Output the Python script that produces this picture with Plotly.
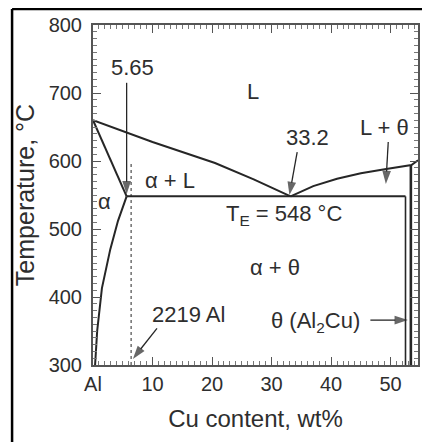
import plotly.graph_objects as go

# ---- data (wt% Cu, temperature °C) ----
liq_left_x = [0, 10, 20.5, 27, 33.2]
liq_left_t = [660, 628, 597, 573, 548]
liq_right_x = [33.2, 37, 41, 45, 49, 52.5, 53.5, 54.6]
liq_right_t = [548, 563, 574, 582, 588, 592, 594, 601]
solidus_x = [0, 5.65]
solidus_t = [660, 548]
solvus_x = [5.65, 4.2, 2.9, 1.5, 0.7, 0.35]
solvus_t = [548, 512, 470, 413, 350, 300]
eutectic_x = [5.65, 52.5]
eutectic_t = [548, 548]
theta_left_x = [52.5, 52.5]
theta_left_t = [548, 300]
theta_right_x = [53.4, 53.4]
theta_right_t = [594, 300]
alloy_x = [6.4, 6.4]
alloy_t = [300, 600]

x_tickvals = [0, 10, 20, 30, 40, 50]
x_ticktext = ["Al", "10", "20", "30", "40", "50"]
y_tickvals = [300, 400, 500, 600, 700, 800]

region_labels = [
    ("L", 26.9, 702),
    ("α + L", 12.9, 572),
    ("α", 1.85, 540),
    ("T<sub>E</sub> = 548 °C", 32.1, 521),
    ("α + θ", 30.6, 443),
]
point_labels = [
    # text, text x, text t, arrow start x, arrow start t, tip x, tip t
    ("5.65", 6.6, 737, 5.65, 715, 5.65, 551),
    ("33.2", 36.1, 635, 34.3, 613, 33.0, 550),
    ("L + θ", 48.9, 650, 49.6, 628, 49.2, 566),
    ("2219 Al", 16.1, 375, 10.75, 354, 6.7, 309),
    ("θ (Al<sub>2</sub>Cu)", 37.3, 363, 46.6, 366, 52.9, 366),
]

LINE = "#262626"
TXT = "#2e2e2e"
FONT = "Liberation Sans, Arial, sans-serif"

fig = go.Figure()
for xs, ts, dash, w in [
    (liq_left_x, liq_left_t, "solid", 2),
    (liq_right_x, liq_right_t, "solid", 2),
    (solidus_x, solidus_t, "solid", 2),
    (solvus_x, solvus_t, "solid", 2),
    (eutectic_x, eutectic_t, "solid", 2),
    (theta_left_x, theta_left_t, "solid", 1.6),
    (theta_right_x, theta_right_t, "solid", 2.6),
    (alloy_x, alloy_t, "dot", 1),
]:
    fig.add_trace(go.Scatter(x=xs, y=ts, mode="lines",
                             line=dict(color=LINE, width=w, dash=dash),
                             showlegend=False, hoverinfo="skip"))

annos = []
for text, x, t in region_labels:
    annos.append(dict(x=x, y=t, text=text, showarrow=False,
                      font=dict(size=22, color=TXT, family=FONT)))
for text, x, t, ax, at, tx, tt in point_labels:
    annos.append(dict(x=x, y=t, text=text, showarrow=False,
                      font=dict(size=22, color=TXT, family=FONT)))
    fig.add_trace(go.Scatter(
        x=[ax, tx], y=[at, tt], mode="lines+markers",
        line=dict(color=LINE, width=1.3),
        marker=dict(symbol="arrow", size=[0, 14], angleref="previous",
                    color=LINE, line=dict(width=0)),
        showlegend=False, hoverinfo="skip"))

# page body has an 8px margin, so the figure is sized to fit the window
fig.update_layout(
    width=422, height=434,
    margin=dict(l=85, r=12, t=17, b=77),
    paper_bgcolor="white", plot_bgcolor="white",
    font=dict(family=FONT, color=TXT, size=20),
    annotations=annos,
    shapes=[
        dict(type="line", xref="paper", yref="paper",
             x0=-0.249, x1=1.04, y0=1.047, y1=1.047,
             line=dict(color="black", width=2.5)),
        dict(type="line", xref="paper", yref="paper",
             x0=-0.249, x1=-0.249, y0=1.047, y1=-0.23,
             line=dict(color="black", width=2.5)),
    ],
)
fig.update_xaxes(
    range=[0, 54.6], tickvals=x_tickvals, ticktext=x_ticktext,
    automargin=False,
    showline=True, linecolor="#555", linewidth=2, mirror="ticks",
    ticks="inside", ticklen=8, tickcolor="#555", tickwidth=1,
    minor=dict(dtick=1, ticks="inside", ticklen=4, tickcolor="#777"),
    showgrid=False, zeroline=False,
    tickfont=dict(size=20, color=TXT),
    title=dict(text="Cu content, wt%", font=dict(size=24, color=TXT), standoff=16),
)
fig.update_yaxes(
    range=[300, 800], tickvals=y_tickvals,
    automargin=False, ticklabelstandoff=5,
    showline=True, linecolor="#555", linewidth=2, mirror="ticks",
    ticks="inside", ticklen=8, tickcolor="#555", tickwidth=1,
    minor=dict(dtick=10, ticks="inside", ticklen=4, tickcolor="#777"),
    showgrid=False, zeroline=False,
    tickfont=dict(size=20, color=TXT),
    title=dict(text="Temperature, °C", font=dict(size=25, color=TXT), standoff=7),
)
fig.write_html("out.html")
